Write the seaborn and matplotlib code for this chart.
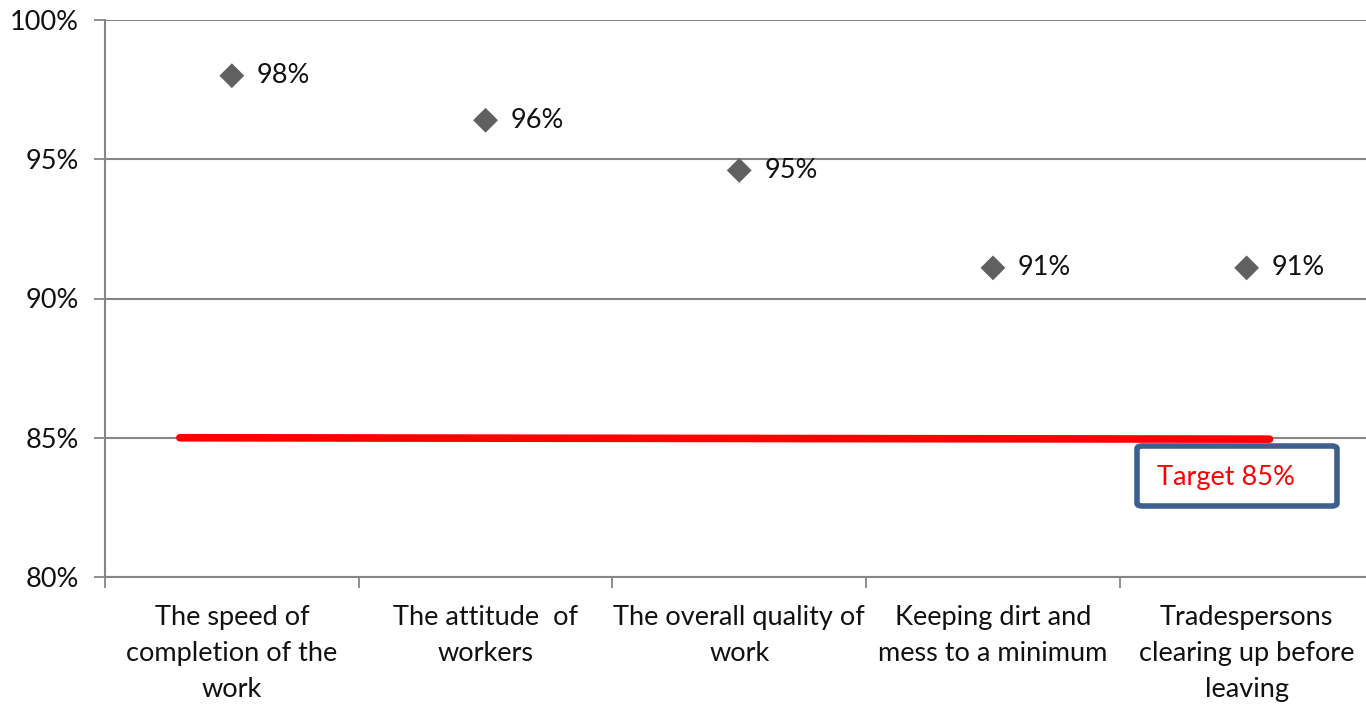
import matplotlib
matplotlib.use("Agg")
import matplotlib.pyplot as plt
import seaborn as sns
import pandas as pd
from matplotlib.patches import FancyBboxPatch

categories = ["The speed of\ncompletion of the\nwork",
              "The attitude  of\nworkers",
              "The overall quality of\nwork",
              "Keeping dirt and\nmess to a minimum",
              "Tradespersons\nclearing up before\nleaving"]
values = [98.0, 96.4, 94.6, 91.1, 91.1]
point_labels = ["98%", "96%", "95%", "91%", "91%"]
target = 85
yticks = [80, 85, 90, 95, 100]

sns.set_theme(style="white")
plt.rcParams['font.family'] = ['Lato', 'DejaVu Sans']

FS = 19.5
fig = plt.figure(figsize=(13.66, 7.04), dpi=100)
W, H = 1366, 704
ax = fig.add_axes([105 / W, 1 - 577 / H, 1268.5 / W, 557 / H])

df = pd.DataFrame({"x": range(len(categories)), "y": values})
sns.scatterplot(data=df, x="x", y="y", marker="D", s=160, color="#606060",
                edgecolor="none", ax=ax, zorder=4)
for i, (v, lab) in enumerate(zip(values, point_labels)):
    ax.annotate(lab, (i, v), xytext=(18, 0), textcoords="offset points",
                va="center", ha="left", fontsize=FS, color="#111111")

tdf = pd.DataFrame({"x": [-0.205, 4.09], "y": [target, target - 0.05]})
sns.lineplot(data=tdf, x="x", y="y", color="#FF0000", linewidth=5.5, ax=ax, zorder=3)

ax.set_xlim(-0.5, 4.5)
ax.set_ylim(80, 100)
ax.set_yticks(yticks)
ax.set_yticklabels([f"{t}%" for t in yticks], fontsize=FS, color="#111111")
ax.set_xticks(range(len(categories)))
ax.set_xticklabels(categories, fontsize=FS, color="#111111", linespacing=1.55)
ax.set_xticks([-0.5, 0.5, 1.5, 2.5, 3.5, 4.5], minor=True)
ax.tick_params(axis="x", which="major", length=0, pad=20)
ax.tick_params(axis="x", which="minor", length=8, width=1.3, color="#868686", direction="out", bottom=True)
ax.tick_params(axis="y", length=8, width=1.3, color="#868686", direction="out", left=True, pad=11)
ax.yaxis.grid(True, color="#868686", linewidth=1.5)
ax.set_axisbelow(True)
for s in ["top", "right"]:
    ax.spines[s].set_visible(False)
for s in ["left", "bottom"]:
    ax.spines[s].set_color("#868686")
    ax.spines[s].set_linewidth(1.5)
ax.set_xlabel("")
ax.set_ylabel("")

box = FancyBboxPatch((1137 / W, 1 - 506 / H), 200 / W, 60 / H,
                     boxstyle="round,pad=0,rounding_size=0.004",
                     transform=fig.transFigure, facecolor="white",
                     edgecolor="#3C5F8C", linewidth=4, zorder=10)
fig.patches.append(box)
fig.text(1157 / W, 1 - 478 / H, "Target 85%", color="#FF0000", fontsize=FS,
         va="center", ha="left", zorder=11)

fig.savefig("out.png", dpi=100)
